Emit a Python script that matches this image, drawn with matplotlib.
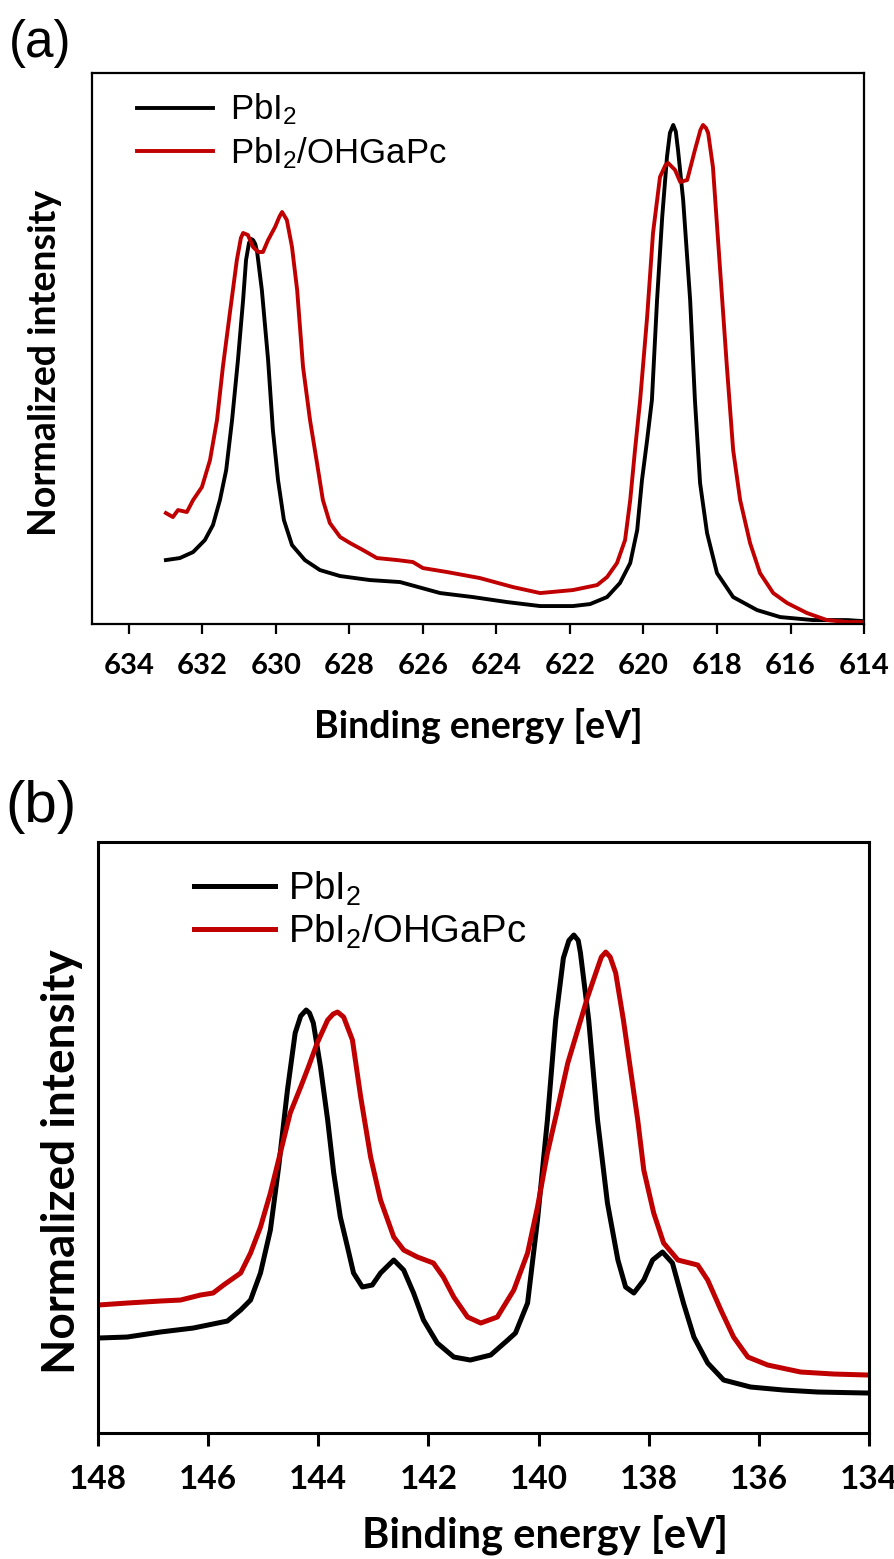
import matplotlib
matplotlib.use("Agg")
import matplotlib.pyplot as plt

plt.rcParams['mathtext.fontset'] = 'custom'
plt.rcParams['mathtext.rm'] = 'Liberation Sans'
plt.rcParams['mathtext.default'] = 'regular'

# ---- panel (a): binding energy (eV) vs normalized intensity
a_black_e = [632.99, 632.61, 632.25, 631.93, 631.71, 631.52, 631.35, 631.19, 631.03, 630.89,
             630.81, 630.73, 630.67, 630.62, 630.56, 630.51, 630.38, 630.21, 630.08, 629.94,
             629.78, 629.56, 629.21, 628.80, 628.25, 627.44, 626.62, 625.53, 624.64, 623.71,
             622.81, 621.92, 621.45, 620.99, 620.64, 620.36, 620.17, 620.04, 619.90, 619.77,
             619.63, 619.49, 619.36, 619.28, 619.19, 619.12, 619.06, 618.92, 618.73, 618.60,
             618.46, 618.27, 618.00, 617.56, 616.91, 616.28, 615.39, 614.46, 614.05]
a_black_i = [0.128, 0.132, 0.144, 0.168, 0.198, 0.248, 0.308, 0.408, 0.528, 0.648,
             0.728, 0.762, 0.770, 0.768, 0.760, 0.745, 0.668, 0.528, 0.388, 0.288,
             0.208, 0.158, 0.128, 0.108, 0.096, 0.088, 0.084, 0.062, 0.054, 0.044,
             0.036, 0.036, 0.040, 0.054, 0.082, 0.122, 0.188, 0.288, 0.368, 0.448,
             0.648, 0.814, 0.934, 0.982, 0.998, 0.985, 0.948, 0.848, 0.648, 0.448,
             0.282, 0.182, 0.102, 0.054, 0.028, 0.014, 0.008, 0.008, 0.006]

a_red_e = [632.99, 632.80, 632.66, 632.42, 632.25, 632.01, 631.79, 631.60, 631.44, 631.25,
           631.06, 630.95, 630.89, 630.76, 630.62, 630.48, 630.35, 630.21, 630.02, 629.90,
           629.83, 629.70, 629.56, 629.42, 629.26, 629.07, 628.88, 628.72, 628.53, 628.25,
           627.98, 627.63, 627.25, 626.70, 626.27, 626.00, 625.34, 624.45, 623.55, 622.81,
           621.92, 621.26, 620.99, 620.72, 620.50, 620.36, 620.23, 620.09, 619.90, 619.74,
           619.55, 619.40, 619.33, 619.14, 619.00, 618.81, 618.60, 618.45, 618.38, 618.30,
           618.24, 618.11, 617.92, 617.73, 617.56, 617.37, 617.10, 616.83, 616.47, 616.09,
           615.55, 615.01, 614.46, 614.05]
a_red_i = [0.222, 0.214, 0.228, 0.224, 0.248, 0.274, 0.328, 0.408, 0.514, 0.622,
           0.728, 0.772, 0.782, 0.778, 0.754, 0.744, 0.744, 0.768, 0.794, 0.815,
           0.824, 0.808, 0.754, 0.668, 0.514, 0.408, 0.322, 0.248, 0.202, 0.174,
           0.162, 0.148, 0.132, 0.128, 0.124, 0.112, 0.104, 0.092, 0.074, 0.062,
           0.068, 0.078, 0.094, 0.122, 0.168, 0.248, 0.348, 0.448, 0.614, 0.782,
           0.894, 0.918, 0.922, 0.908, 0.884, 0.888, 0.948, 0.988, 0.998, 0.992,
           0.982, 0.914, 0.714, 0.514, 0.348, 0.248, 0.162, 0.102, 0.062, 0.042,
           0.022, 0.008, 0.004, 0.004]

# ---- panel (b)
b_black_e = [148.00, 147.47, 146.87, 146.27, 145.65, 145.41, 145.23, 145.05, 144.87, 144.72,
             144.56, 144.42, 144.32, 144.22, 144.16, 144.09, 143.96, 143.83, 143.72, 143.60,
             143.47, 143.36, 143.20, 143.02, 142.87, 142.63, 142.45, 142.27, 142.09, 141.84,
             141.54, 141.24, 140.87, 140.56, 140.42, 140.20, 140.02, 139.84, 139.69, 139.55,
             139.45, 139.36, 139.28, 139.24, 139.09, 138.93, 138.75, 138.56, 138.42, 138.27,
             138.09, 137.93, 137.75, 137.57, 137.37, 137.18, 136.93, 136.64, 136.15, 135.55,
             134.93, 134.02]
b_black_i = [0.190, 0.192, 0.202, 0.210, 0.224, 0.246, 0.266, 0.320, 0.406, 0.532,
             0.686, 0.800, 0.834, 0.846, 0.840, 0.820, 0.732, 0.626, 0.520, 0.432,
             0.372, 0.320, 0.292, 0.296, 0.320, 0.346, 0.326, 0.280, 0.226, 0.180,
             0.152, 0.146, 0.156, 0.186, 0.200, 0.260, 0.426, 0.626, 0.826, 0.950,
             0.985, 0.996, 0.985, 0.960, 0.826, 0.626, 0.460, 0.346, 0.292, 0.280,
             0.306, 0.346, 0.362, 0.340, 0.260, 0.192, 0.140, 0.106, 0.092, 0.086,
             0.082, 0.080]

b_red_e = [148.00, 147.47, 146.87, 146.50, 146.14, 145.91, 145.72, 145.41, 145.23, 145.05,
           144.87, 144.69, 144.51, 144.32, 144.18, 144.02, 143.83, 143.73, 143.65, 143.54,
           143.38, 143.23, 143.05, 142.87, 142.63, 142.45, 142.20, 141.91, 141.73, 141.54,
           141.29, 141.05, 140.75, 140.45, 140.20, 140.02, 139.84, 139.66, 139.47, 139.29,
           139.11, 138.93, 138.86, 138.78, 138.70, 138.60, 138.46, 138.33, 138.20, 138.09,
           137.91, 137.73, 137.47, 137.11, 136.93, 136.69, 136.46, 136.20, 135.84, 135.24,
           134.64, 134.02]
b_red_i = [0.256, 0.260, 0.264, 0.266, 0.276, 0.280, 0.296, 0.320, 0.360, 0.412,
           0.480, 0.560, 0.640, 0.692, 0.732, 0.780, 0.826, 0.838, 0.842, 0.832,
           0.786, 0.672, 0.552, 0.466, 0.392, 0.366, 0.352, 0.340, 0.312, 0.272,
           0.232, 0.220, 0.232, 0.286, 0.360, 0.452, 0.560, 0.646, 0.740, 0.806,
           0.872, 0.930, 0.952, 0.962, 0.952, 0.920, 0.826, 0.726, 0.626, 0.526,
           0.440, 0.380, 0.346, 0.336, 0.306, 0.246, 0.192, 0.152, 0.136, 0.122,
           0.118, 0.116]

a_ticks = list(range(634, 613, -2))
b_ticks = list(range(148, 133, -2))
labels = ['PbI$_2$', 'PbI$_2$/OHGaPc']
red = '#C00000'
tick_font = 'Lato'

fig = plt.figure(figsize=(8.95, 15.59), dpi=100)

# ---------- (a)
ax1 = fig.add_axes([0.1028, 0.5997, 0.8626, 0.3535])
ax1.plot(a_black_e, a_black_i, color='black', lw=2.8, label=labels[0],
         solid_joinstyle='round')
ax1.plot(a_red_e, a_red_i, color=red, lw=2.8, label=labels[1],
         solid_joinstyle='round')
ax1.set_xlim(635, 614)
ax1.set_ylim(0, 1.102)
ax1.set_yticks([])
ax1.set_xticks(a_ticks)
ax1.set_xticklabels([str(t) for t in a_ticks], fontfamily=tick_font,
                    fontweight='bold', fontsize=21)
ax1.tick_params(axis='x', direction='out', length=7, width=1.6, pad=14)
for s in ax1.spines.values():
    s.set_linewidth(1.6)
ax1.set_xlabel('Binding energy [eV]', fontfamily=tick_font, fontweight='bold',
               fontsize=27, labelpad=21)
ax1.set_ylabel('Normalized intensity', fontfamily=tick_font, fontweight='bold',
               fontsize=27)
ax1.yaxis.set_label_coords(-0.039, 0.474)
ax1.legend(loc='upper left', bbox_to_anchor=(0.058, 0.966), frameon=False,
           prop={'family': 'Liberation Sans', 'size': 25}, handlelength=2.19,
           handletextpad=0.49, labelspacing=0.23, borderpad=0, borderaxespad=0)
fig.text(0.010, 0.988, '(a)', fontfamily='Liberation Sans', fontsize=37,
         ha='left', va='top')

# ---------- (b)
ax2 = fig.add_axes([0.1095, 0.0808, 0.8615, 0.3791])
ax2.plot(b_black_e, b_black_i, color='black', lw=3.6, label=labels[0],
         solid_joinstyle='round')
ax2.plot(b_red_e, b_red_i, color=red, lw=3.6, label=labels[1],
         solid_joinstyle='round')
ax2.set_xlim(148, 134)
ax2.set_ylim(0, 1.182)
ax2.set_yticks([])
ax2.set_xticks(b_ticks)
ax2.set_xticklabels([str(t) for t in b_ticks], fontfamily=tick_font,
                    fontweight='bold', fontsize=24)
ax2.tick_params(axis='x', direction='out', length=9, width=2.2, pad=14)
for s in ax2.spines.values():
    s.set_linewidth(2.2)
ax2.set_xlabel('Binding energy [eV]', fontfamily=tick_font, fontweight='bold',
               fontsize=30)
ax2.xaxis.set_label_coords(0.58, -0.137)
ax2.set_ylabel('Normalized intensity', fontfamily=tick_font, fontweight='bold',
               fontsize=33)
ax2.yaxis.set_label_coords(-0.019, 0.46)
ax2.legend(loc='upper left', bbox_to_anchor=(0.1245, 0.954), frameon=False,
           prop={'family': 'Liberation Sans', 'size': 27.5}, handlelength=2.12,
           handletextpad=0.34, labelspacing=0.14, borderpad=0, borderaxespad=0)
fig.text(0.006, 0.500, '(b)', fontfamily='Liberation Sans', fontsize=42,
         ha='left', va='top')

fig.savefig('out.png', dpi=100)
